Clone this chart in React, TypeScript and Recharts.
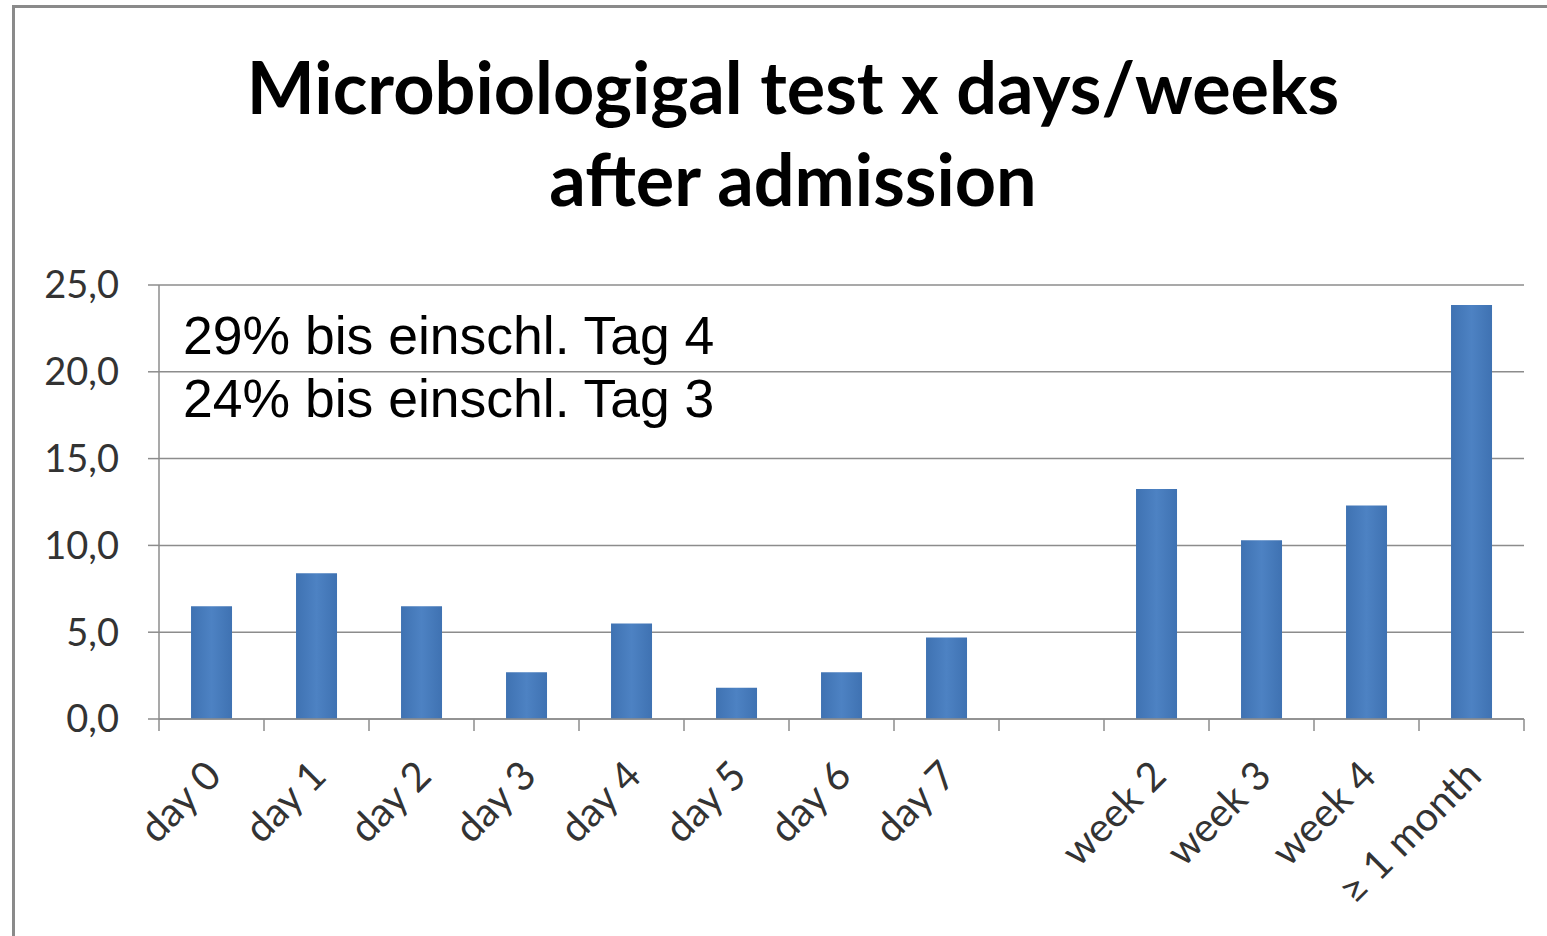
import { BarChart, Bar, XAxis, YAxis, CartesianGrid } from "recharts"

const categories = [
    "day 0", "day 1", "day 2", "day 3", "day 4", "day 5", "day 6", "day 7",
    "", "week 2", "week 3", "week 4", "≥ 1 month",
]
const shares = [6.5, 8.4, 6.5, 2.7, 5.5, 1.8, 2.7, 4.7, null, 13.25, 10.3, 12.3, 23.85]
const yTicks = [0, 5, 10, 15, 20, 25]
const boundaryTicks = categories.map((_, i) => i).concat(categories.length)
const notes = ["29% bis einschl. Tag 4", "24% bis einschl. Tag 3"]

// slot = index of the category, used only by the hidden boundary axis
const data = categories.map((name, i) => ({ name, slot: i, value: shares[i] }))

const GRID = "#8c8c8c"
const LABEL = "#333333"
const FONT = "Lato, 'Open Sans', sans-serif"

const CatTick = (props: any) => {
    const { x, y, payload } = props
    return (
        <g transform={`translate(${x + 12},${y + 58})`}>
            <text x={0} y={0} textAnchor="end" transform="rotate(-45)"
                fill={LABEL} fontSize={40} fontFamily={FONT}>
                {payload.value}
            </text>
        </g>
    )
}

export default function App() {
    return (
        <div style={{ position: "absolute", left: 0, top: 0, width: 1547, height: 936, background: "#fff", overflow: "hidden" }}>
            <div style={{
                position: "absolute", left: 12, top: 5, width: 1600, height: 1000,
                border: "3px solid #8a8a8a", boxSizing: "border-box"
            }} />

            {/* title */}
            <div style={{
                position: "absolute", left: 0, width: 1586, top: 40, textAlign: "center",
                fontFamily: FONT, fontWeight: 700, fontSize: 72, lineHeight: "92px", color: "#000"
            }}>
                Microbiologigal test x days/weeks<br />after admission
            </div>

            <BarChart width={1547} height={936} data={data}
                margin={{ top: 285, right: 23, left: 0, bottom: 0 }}
                barCategoryGap="30.5%">
                <defs>
                    <linearGradient id="barFill" x1="0" y1="0" x2="1" y2="0">
                        <stop offset="0%" stopColor="#3f72b2" />
                        <stop offset="50%" stopColor="#4d82c3" />
                        <stop offset="100%" stopColor="#3f72b2" />
                    </linearGradient>
                </defs>
                <CartesianGrid vertical={false} stroke={GRID} strokeWidth={1.5} />
                <XAxis xAxisId="aEdges" dataKey="slot" type="number" scale="linear"
                    domain={[0, categories.length]} allowDataOverflow
                    ticks={boundaryTicks} height={1} interval={0}
                    tickFormatter={() => ""} tick={{ fontSize: 1 }}
                    tickSize={12} tickLine={{ stroke: GRID, strokeWidth: 1.5 }}
                    axisLine={{ stroke: GRID, strokeWidth: 1.5 }} />
                <XAxis xAxisId="bCats" dataKey="name" height={216} interval={0}
                    tickLine={false} axisLine={false} tickSize={0} tickMargin={0}
                    tick={<CatTick />} />
                <YAxis domain={[0, 25]} ticks={yTicks} width={159}
                    tickSize={11} tickMargin={29}
                    tickFormatter={(v: number) => v.toFixed(1).replace(".", ",")}
                    tick={{ fill: LABEL, fontSize: 38, fontFamily: FONT }}
                    tickLine={{ stroke: GRID, strokeWidth: 1.5 }}
                    axisLine={{ stroke: GRID, strokeWidth: 1.5 }} />
                <Bar xAxisId="bCats" dataKey="value" fill="url(#barFill)" isAnimationActive={false} />
            </BarChart>

            {/* annotation */}
            <div style={{
                position: "absolute", left: 183, top: 304, fontFamily: "'Liberation Sans', Arial, sans-serif",
                fontSize: 53.5, lineHeight: "63px", color: "#000"
            }}>
                {notes.map(n => <div key={n}>{n}</div>)}
            </div>
        </div>
    )
}
